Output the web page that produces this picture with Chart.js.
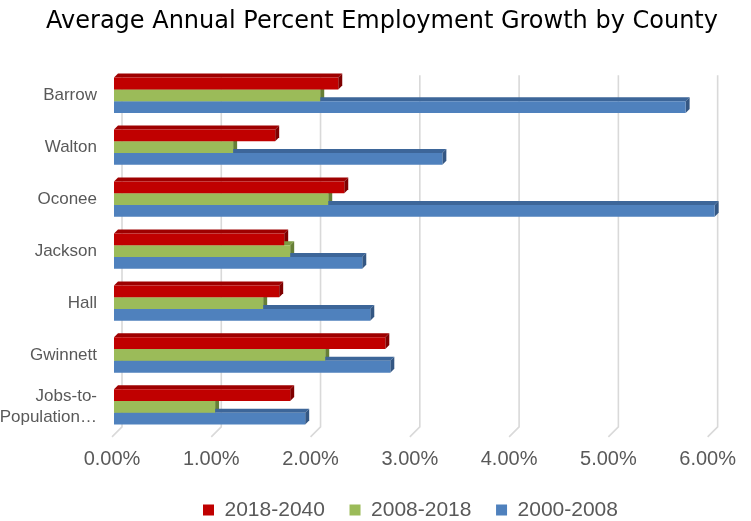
<!DOCTYPE html>
<html>
<head>
<meta charset="utf-8">
<script src="https://cdn.jsdelivr.net/npm/chart.js@4"></script>
<style>
  html, body { margin: 0; padding: 0; background: #ffffff; }
  #wrap { width: 751px; height: 521px; position: relative; }
</style>
</head>
<body>
<div id="wrap"><canvas id="chart"></canvas></div>
<script>
// Average annual employment growth (%) per county, three periods
const counties = ['Barrow', 'Walton', 'Oconee', 'Jackson', 'Hall', 'Gwinnett', ['Jobs-to-', 'Population…']];
const periods = ['2018-2040', '2008-2018', '2000-2008'];
const growth2018to2040 = [2.24, 1.61, 2.30, 1.70, 1.65, 2.71, 1.76];
const growth2008to2018 = [2.06, 1.19, 2.14, 1.76, 1.49, 2.11, 1.01];
const growth2000to2008 = [5.71, 3.28, 6.00, 2.48, 2.56, 2.76, 1.91];
const axisTicks = [0, 1, 2, 3, 4, 5, 6];

// front face / top face / side face colours per series
const palette = [
  { front: '#C00000', top: '#9E0000', side: '#7F0000' },
  { front: '#9BBB59', top: '#7E9C44', side: '#667F36' },
  { front: '#4F81BD', top: '#3D6699', side: '#345783' }
];
const DEPTH = 4;

// Back-wall gridlines with a short slanted floor segment
const wallGrid = {
  id: 'wallGrid',
  beforeDatasetsDraw(chart) {
    const { ctx, chartArea } = chart;
    const sc = chart.scales.xf;
    ctx.save();
    ctx.strokeStyle = '#D9D9D9';
    ctx.lineWidth = 1.6;
    axisTicks.forEach(v => {
      const px = sc.getPixelForValue(v);
      ctx.beginPath();
      ctx.moveTo(px + 10, chartArea.top + 6);
      ctx.lineTo(px + 10, chartArea.bottom - 6);
      ctx.lineTo(px, chartArea.bottom + 4);
      ctx.stroke();
    });
    ctx.restore();
  }
};

// Top and end faces that give each bar its extruded look
const barDepth = {
  id: 'barDepth',
  beforeDatasetsDraw(chart) {
    const ctx = chart.ctx;
    ctx.save();
    chart.data.datasets.forEach((ds, di) => {
      const meta = chart.getDatasetMeta(di);
      const col = palette[di];
      meta.data.forEach(el => {
        const { x, y, base, height } = el.getProps(['x', 'y', 'base', 'height'], true);
        const t = y - height / 2, b = y + height / 2, d = DEPTH;
        ctx.fillStyle = col.top;
        ctx.beginPath();
        ctx.moveTo(base, t);
        ctx.lineTo(base + d, t - d);
        ctx.lineTo(x + d, t - d);
        ctx.lineTo(x, t);
        ctx.closePath();
        ctx.fill();
        ctx.fillStyle = col.side;
        ctx.beginPath();
        ctx.moveTo(x, t);
        ctx.lineTo(x + d, t - d);
        ctx.lineTo(x + d, b - d);
        ctx.lineTo(x, b);
        ctx.closePath();
        ctx.fill();
      });
    });
    ctx.restore();
  },
  afterLayout(chart) {
    // centre the title over the plot and place the legend row
    const tb = chart.titleBlock;
    const tShift = 382 - (tb.left + tb.right) / 2;
    tb.left += tShift; tb.right += tShift;
    const lg = chart.legend;
    const pad = lg.options.labels.padding;
    const start = (lg.left + pad + lg.right - lg.lineWidths[0]) / 2;
    const lShift = 203 - start;
    lg.left += lShift; lg.right += lShift;
  }
};

const seriesValues = [growth2018to2040, growth2008to2018, growth2000to2008];

new Chart(document.getElementById('chart'), {
  type: 'bar',
  data: {
    labels: counties,
    datasets: periods.map((p, i) => ({
      label: p,
      data: seriesValues[i],
      backgroundColor: palette[i].front,
      borderWidth: 0,
      clip: false,
      categoryPercentage: 0.68,
      barPercentage: 1.0
    }))
  },
  options: {
    indexAxis: 'y',
    responsive: true,
    maintainAspectRatio: false,
    animation: false,
    events: [],
    layout: { padding: { top: 0, left: 0, right: 43, bottom: -9.5 } },
    scales: {
      x: {
        type: 'linear',
        display: false,
        min: -0.01997,
        max: 5.9301
      },
      xf: {
        type: 'linear',
        position: 'bottom',
        min: 0,
        max: 6,
        afterBuildTicks(s) { s.ticks = axisTicks.map(v => ({ value: v })); },
        afterFit(s) { s.height = 42; },
        grid: { display: false, drawTicks: false },
        border: { display: false },
        ticks: {
          autoSkip: false,
          maxRotation: 0,
          padding: 15,
          color: '#595959',
          font: { family: '"Liberation Sans", Arial, sans-serif', size: 20 },
          callback: v => Number(v).toFixed(2) + '%'
        }
      },
      y: {
        type: 'category',
        afterFit(s) { s.width = 112; },
        grid: { display: false, drawTicks: false },
        border: { display: false },
        ticks: {
          padding: 15,
          color: '#595959',
          font: { family: '"Liberation Sans", Arial, sans-serif', size: 17 }
        }
      }
    },
    plugins: {
      title: {
        display: true,
        text: 'Average Annual Percent Employment Growth by County',
        color: '#000000',
        font: { family: '"DejaVu Sans", sans-serif', size: 24, weight: 'normal' },
        padding: { top: 7, bottom: 33.5 }
      },
      legend: {
        position: 'bottom',
        labels: {
          boxWidth: 11,
          boxHeight: 11,
          padding: 24.6,
          color: '#595959',
          font: { family: '"Liberation Sans", Arial, sans-serif', size: 21 }
        }
      },
      tooltip: { enabled: false }
    }
  },
  plugins: [wallGrid, barDepth]
});
</script>
</body>
</html>
